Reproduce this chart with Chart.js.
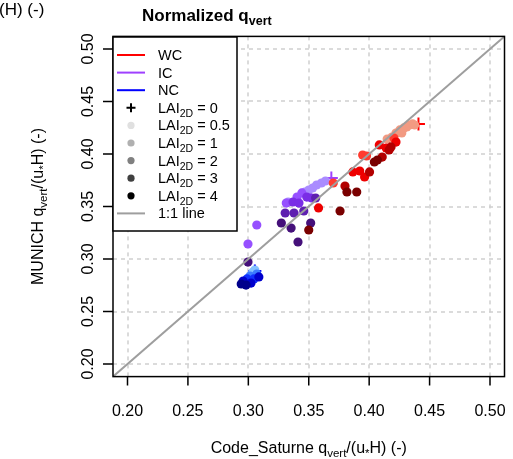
<!DOCTYPE html>
<html>
<head>
<meta charset="utf-8">
<script src="https://cdn.jsdelivr.net/npm/chart.js@4.4.1/dist/chart.umd.min.js"></script>
<style>
  html, body { margin: 0; padding: 0; background: #fff; overflow: hidden; }
  canvas { display: block; }
</style>
</head>
<body>
<canvas id="chart" width="513" height="459"></canvas>
<script>
// axis ticks (same on both axes)
const tickValues = [0.20, 0.25, 0.30, 0.35, 0.40, 0.45, 0.50];
const tickLabels = ["0.20", "0.25", "0.30", "0.35", "0.40", "0.45", "0.50"];
const axisMin = 0.188;
const axisMax = 0.512;

const caseNames = ["WC", "IC", "NC"];
const laiLabels = ["0", "0.5", "1", "2", "3", "4"];

// WC points, one array per LAI_2D level: [Code_Saturne, MUNICH]
const wcLai0 = [[0.4408, 0.4286]];
const wcLai05 = [[0.4222, 0.4200], [0.4254, 0.4229], [0.4287, 0.4248], [0.4311, 0.4257],
  [0.4335, 0.4276], [0.4360, 0.4286], [0.4376, 0.4276], [0.4270, 0.4200],
  [0.4149, 0.4143], [0.4189, 0.4162]];
const wcLai1 = [[0.3946, 0.3990], [0.3703, 0.3724], [0.4205, 0.4152], [0.3978, 0.3981]];
const wcLai2 = [[0.4084, 0.4086], [0.4141, 0.4057], [0.4222, 0.4114], [0.3922, 0.3838],
  [0.3865, 0.3829], [0.3962, 0.3781], [0.3581, 0.3486]];
const wcLai3 = [[0.4181, 0.4067], [0.4108, 0.3971], [0.4003, 0.3829], [0.3800, 0.3695],
  [0.4165, 0.4038]];
const wcLai4 = [[0.4068, 0.3943], [0.4043, 0.3924], [0.3816, 0.3638], [0.3897, 0.3638],
  [0.3759, 0.3457], [0.3500, 0.3276]];

// IC points
const icLai0 = [[0.3687, 0.3771]];
const icLai05 = [[0.3638, 0.3743], [0.3605, 0.3724], [0.3565, 0.3705], [0.3532, 0.3676],
  [0.3500, 0.3657], [0.3468, 0.3638], [0.3330, 0.3543]];
const icLai1 = [[0.3443, 0.3629], [0.3403, 0.3590], [0.3070, 0.3324], [0.2997, 0.3143],
  [0.3314, 0.3533]];
const icLai2 = [[0.3370, 0.3543], [0.3419, 0.3533], [0.3484, 0.3590], [0.3524, 0.3581]];
const icLai3 = [[0.3557, 0.3581], [0.3305, 0.3438], [0.3378, 0.3438], [0.3459, 0.3457]];
const icLai4 = [[0.3273, 0.3343], [0.3354, 0.3295], [0.3516, 0.3343], [0.3411, 0.3162],
  [0.2997, 0.2971]];

// NC points
const ncLai0 = [[0.3054, 0.2886]];
const ncLai05 = [[0.3038, 0.2876], [0.3054, 0.2895]];
const ncLai1 = [[0.3014, 0.2838], [0.3070, 0.2857]];
const ncLai2 = [[0.2989, 0.2810], [0.3046, 0.2810]];
const ncLai3 = [[0.2957, 0.2790], [0.3022, 0.2771], [0.3087, 0.2829]];
const ncLai4 = [[0.2941, 0.2762], [0.2981, 0.2752]];

const oneToOne = [[0.15, 0.15], [0.55, 0.55]];

// colours: index 0 = LAI 0 (cross), then 0.5 .. 4
const wcColors = ["#ff0000", "#f29a82", "#ff3b2f", "#ee0000", "#b30000", "#7a0000"];
const icColors = ["#9f40ff", "#aa8cff", "#9650ff", "#7a2de6", "#5e1fb0", "#45107a"];
const ncColors = ["#0000ff", "#85c2ff", "#3c7cff", "#1030ff", "#0000cc", "#00008b"];
const legendLineColors = ["#ff0000", "#9f40ff", "#0000ff"];
const legendGrays = ["#000000", "#e0e0e0", "#b0b0b0", "#808080", "#404040", "#000000"];

const FONT = '"Liberation Sans", Arial, Helvetica, sans-serif';

function toXY(arr) {
    return arr.map((p) => ({ x: p[0], y: p[1] }));
}

function pointSet(arr, color, isCross) {
    return {
        type: "scatter",
        data: toXY(arr),
        backgroundColor: color,
        borderColor: color,
        pointStyle: isCross ? "cross" : "circle",
        pointRadius: isCross ? 6.5 : 4.6,
        borderWidth: isCross ? 2 : 0,
        order: 2,
    };
}

const groups = [
    [wcLai0, wcLai05, wcLai1, wcLai2, wcLai3, wcLai4, wcColors],
    [icLai0, icLai05, icLai1, icLai2, icLai3, icLai4, icColors],
    [ncLai0, ncLai05, ncLai1, ncLai2, ncLai3, ncLai4, ncColors],
];

const datasets = [];
groups.forEach((g) => {
    const colors = g[6];
    for (let i = 5; i >= 1; i--) datasets.push(pointSet(g[i], colors[i], false));
    datasets.push(pointSet(g[0], colors[0], true));
});
datasets.push({
    type: "scatter",
    data: toXY(oneToOne),
    showLine: true,
    borderColor: "#9e9e9e",
    borderWidth: 2,
    pointRadius: 0,
    order: 1,
});

// draws text made of pieces (normal / subscript)
function richText(ctx, parts, x, y, align, rotate) {
    ctx.save();
    ctx.translate(x, y);
    if (rotate) ctx.rotate(-Math.PI / 2);
    ctx.textAlign = "left";
    ctx.textBaseline = "alphabetic";
    let w = 0;
    parts.forEach((p) => {
        ctx.font = `${p.bold ? "bold " : ""}${p.size}px ${FONT}`;
        p.w = ctx.measureText(p.t).width;
        w += p.w;
    });
    let cx = align === "center" ? -w / 2 : align === "right" ? -w : 0;
    parts.forEach((p) => {
        ctx.font = `${p.bold ? "bold " : ""}${p.size}px ${FONT}`;
        ctx.fillStyle = "#000";
        ctx.fillText(p.t, cx, p.dy || 0);
        cx += p.w;
    });
    ctx.restore();
}

const framePlugin = {
    id: "frame",
    beforeDatasetsDraw(chart) {
        const { ctx, chartArea: a, scales } = chart;
        ctx.save();
        ctx.strokeStyle = "#cfcfcf";
        ctx.lineWidth = 1.5;
        ctx.setLineDash([4, 4]);
        tickValues.forEach((v) => {
            const x = Math.round(scales.x.getPixelForValue(v));
            const y = Math.round(scales.y.getPixelForValue(v));
            ctx.beginPath();
            ctx.moveTo(x, a.top);
            ctx.lineTo(x, a.bottom);
            ctx.stroke();
            ctx.beginPath();
            ctx.moveTo(a.left, y);
            ctx.lineTo(a.right, y);
            ctx.stroke();
        });
        ctx.restore();
    },
    afterDatasetsDraw(chart) {
        const { ctx, chartArea: a, scales } = chart;
        ctx.save();
        // box
        ctx.strokeStyle = "#000";
        ctx.lineWidth = 1.5;
        ctx.strokeRect(a.left, a.top, a.right - a.left, a.bottom - a.top);

        // ticks and tick labels
        ctx.fillStyle = "#000";
        ctx.font = `16px ${FONT}`;
        tickValues.forEach((v, i) => {
            const x = scales.x.getPixelForValue(v);
            const y = scales.y.getPixelForValue(v);
            ctx.beginPath();
            ctx.moveTo(x, a.bottom);
            ctx.lineTo(x, a.bottom + 9);
            ctx.moveTo(a.left, y);
            ctx.lineTo(a.left - 10, y);
            ctx.stroke();
            ctx.textAlign = "center";
            ctx.textBaseline = "alphabetic";
            ctx.fillText(tickLabels[i], x, 416);
            ctx.save();
            ctx.translate(93, y);
            ctx.rotate(-Math.PI / 2);
            ctx.fillText(tickLabels[i], 0, 0);
            ctx.restore();
        });

        // axis titles
        const sub = 11.5;
        richText(ctx, [
            { t: "Code_Saturne q", size: 16 },
            { t: "vert", size: sub, dy: 4 },
            { t: "/(u", size: 16 },
            { t: "*", size: sub, dy: 4 },
            { t: "H) (-)", size: 16 },
        ], (a.left + a.right) / 2, 453, "center", false);
        richText(ctx, [
            { t: "MUNICH q", size: 16 },
            { t: "vert", size: sub, dy: 4 },
            { t: "/(u", size: 16 },
            { t: "*", size: sub, dy: 4 },
            { t: "H) (-)", size: 16 },
        ], 43, (a.top + a.bottom) / 2, "center", true);

        // title
        richText(ctx, [
            { t: "Normalized q", size: 17, bold: true },
            { t: "vert", size: 12.5, bold: true, dy: 4 },
        ], 142, 21, "left", false);

        // fragment of neighbouring panel label
        richText(ctx, [{ t: "(H) (-)", size: 17 }], -1, 15, "left", false);

        // legend
        const lx = 113, ly = 37, lw = 124, lh = 194;
        ctx.fillStyle = "#fff";
        ctx.fillRect(lx, ly, lw, lh);
        ctx.strokeStyle = "#000";
        ctx.lineWidth = 1.5;
        ctx.strokeRect(lx, ly, lw, lh);
        const step = 17.6;
        const y0 = 55;
        const symX = 131;
        const textX = 158;
        const fs = 14.5;
        caseNames.forEach((name, i) => {
            const y = y0 + i * step;
            ctx.strokeStyle = legendLineColors[i];
            ctx.lineWidth = 2;
            ctx.beginPath();
            ctx.moveTo(117, y);
            ctx.lineTo(145, y);
            ctx.stroke();
            richText(ctx, [{ t: name, size: fs }], textX, y + 5, "left", false);
        });
        laiLabels.forEach((lab, i) => {
            const y = y0 + (i + 3) * step;
            ctx.fillStyle = legendGrays[i];
            ctx.strokeStyle = legendGrays[i];
            if (i === 0) {
                ctx.lineWidth = 2;
                ctx.beginPath();
                ctx.moveTo(symX - 4.5, y);
                ctx.lineTo(symX + 4.5, y);
                ctx.moveTo(symX, y - 4.5);
                ctx.lineTo(symX, y + 4.5);
                ctx.stroke();
            } else {
                ctx.beginPath();
                ctx.arc(symX, y, 3.6, 0, Math.PI * 2);
                ctx.fill();
            }
            richText(ctx, [
                { t: "LAI", size: fs },
                { t: "2D", size: 10.5, dy: 4 },
                { t: " = " + lab, size: fs },
            ], textX, y + 5, "left", false);
        });
        const yl = y0 + 9 * step;
        ctx.strokeStyle = "#9e9e9e";
        ctx.lineWidth = 2;
        ctx.beginPath();
        ctx.moveTo(117, yl);
        ctx.lineTo(145, yl);
        ctx.stroke();
        richText(ctx, [{ t: "1:1 line", size: fs }], textX, yl + 5, "left", false);
        ctx.restore();
    },
};

new Chart(document.getElementById("chart"), {
    type: "scatter",
    data: { datasets },
    options: {
        responsive: false,
        animation: false,
        layout: { padding: { top: 36.4, left: 113, right: 0.2, bottom: 82.4 } },
        scales: {
            x: { type: "linear", min: axisMin, max: axisMax, display: false },
            y: { type: "linear", min: axisMin, max: axisMax, display: false },
        },
        plugins: { legend: { display: false }, tooltip: { enabled: false } },
    },
    plugins: [framePlugin],
});
</script>
</body>
</html>
